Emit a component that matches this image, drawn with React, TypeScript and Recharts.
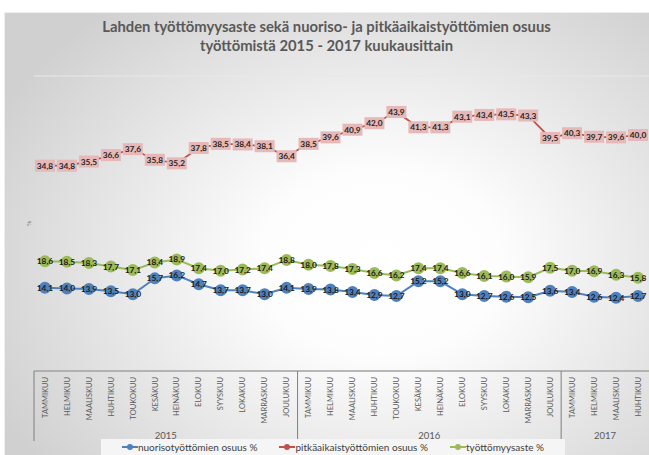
import React from 'react';
import { LineChart, Line, XAxis, YAxis, CartesianGrid, Legend } from 'recharts';

const months = [
  'TAMMIKUU', 'HELMIKUU', 'MAALISKUU', 'HUHTIKUU', 'TOUKOKUU', 'KESÄKUU',
  'HEINÄKUU', 'ELOKUU', 'SYYSKUU', 'LOKAKUU', 'MARRASKUU', 'JOULUKUU',
];
const years = ['2015', '2016', '2017'];
const monthsPerYear = [12, 12, 4];

const youthShare = [
  14.1, 14.0, 13.9, 13.5, 13.0, 15.7, 16.2, 14.7, 13.7, 13.7, 13.0, 14.1,
  13.9, 13.8, 13.4, 12.9, 12.7, 15.2, 15.2, 13.0, 12.7, 12.6, 12.5, 13.6,
  13.4, 12.6, 12.4, 12.7,
];
const longTermShare = [
  34.8, 34.8, 35.5, 36.6, 37.6, 35.8, 35.2, 37.8, 38.5, 38.4, 38.1, 36.4,
  38.5, 39.6, 40.9, 42.0, 43.9, 41.3, 41.3, 43.1, 43.4, 43.5, 43.3, 39.5,
  40.3, 39.7, 39.6, 40.0,
];
const unemploymentRate = [
  18.6, 18.5, 18.3, 17.7, 17.1, 18.4, 18.9, 17.4, 17.0, 17.2, 17.4, 18.8,
  18.0, 17.8, 17.3, 16.6, 16.2, 17.4, 17.4, 16.6, 16.1, 16.0, 15.9, 17.5,
  17.0, 16.9, 16.3, 15.8,
];
const yTicks = [0, 5, 10, 15, 20, 25, 30, 35, 40, 45, 50];

const series = [
  { key: 'youth', name: 'nuorisotyöttömien osuus %', color: '#4f81bd' },
  { key: 'longTerm', name: 'pitkäaikaistyöttömien osuus %', color: '#c0504d' },
  { key: 'rate', name: 'työttömyysaste %', color: '#9bbb59' },
];

// build rows: one per month, with its year group
const data: any[] = [];
years.forEach((yr, g) => {
  for (let m = 0; m < monthsPerYear[g]; m++) {
    const i = data.length;
    data.push({
      key: `${yr}-${m}`,
      month: months[m],
      year: yr,
      youth: youthShare[i],
      longTerm: longTermShare[i],
      rate: unemploymentRate[i],
    });
  }
});

const W = 649;
const H = 455;
const margin = { top: 76, right: 0, bottom: 0, left: 24 };
const yAxisW = 10;
const band = (W - margin.left - yAxisW - margin.right) / data.length;
const FONT = 'Lato, "Open Sans", sans-serif';

const fmt = (v: number) => v.toFixed(1).replace('.', ',');

// group boundaries for separators and year labels
const groupStarts: number[] = [];
monthsPerYear.reduce((acc, n) => {
  groupStarts.push(acc);
  return acc + n;
}, 0);

const MonthTick = (props: any) => {
  const { x, y, index } = props;
  const row = data[index];
  if (!row) return null;
  const axisY = y - 6;
  const g = years.indexOf(row.year);
  const start = groupStarts[g];
  const count = monthsPerYear[g];
  const isLast = index === start + count - 1;
  const midIndex = start + Math.floor(count / 2) - 1;
  return (
    <g>
      <text
        x={x + 2.7}
        y={y}
        transform={`rotate(-90, ${x + 2.7}, ${y})`}
        textAnchor="end"
        fontSize={7.5}
        fontFamily={FONT}
        fill="#595959"
      >
        {row.month}
      </text>
      {index === 0 && (
        <line x1={x - band / 2} x2={x - band / 2} y1={axisY} y2={axisY + 70} stroke="#7f7f7f" strokeWidth={1} />
      )}
      {isLast && g < years.length - 1 && (
        <line x1={x + band / 2} x2={x + band / 2} y1={axisY} y2={axisY + 70} stroke="#7f7f7f" strokeWidth={1} />
      )}
      {index === midIndex && (
        <text
          x={x + band / 2}
          y={axisY + 67.5}
          textAnchor="middle"
          fontSize={9.5}
          fontFamily={FONT}
          fill="#595959"
        >
          {row.year}
        </text>
      )}
    </g>
  );
};

const boxLabel = (props: any) => {
  const { x, y, value } = props;
  return (
    <g>
      <rect x={x - 10} y={y - 6} width={20} height={12} fill="#e6b8b7" />
      <text x={x} y={y + 3} textAnchor="middle" fontSize={8.3} fontWeight="bold" fontFamily={FONT} fill="#262626">
        {fmt(value)}
      </text>
    </g>
  );
};

const plainLabel = (props: any) => {
  const { x, y, value } = props;
  return (
    <text x={x} y={y + 3} textAnchor="middle" fontSize={8.3} fontWeight="bold" fontFamily={FONT} fill="#1a1a1a">
      {fmt(value)}
    </text>
  );
};

const LegendBox = () => (
  <div
    style={{
      marginLeft: 101,
      width: 464,
      height: 16,
      background: '#f5f5f5',
      display: 'flex',
      alignItems: 'center',
      justifyContent: 'center',
      gap: 22,
      fontFamily: FONT,
      fontSize: 10,
      color: '#404040',
    }}
  >
    {series.map((s) => (
      <div key={s.key} style={{ display: 'flex', alignItems: 'center' }}>
        <svg width={16} height={8}>
          <line x1={0} x2={16} y1={4} y2={4} stroke={s.color} strokeWidth={2} />
          <circle cx={8} cy={4} r={3} fill={s.color} />
        </svg>
        <span>{s.name}</span>
      </div>
    ))}
  </div>
);

export default function App() {
  return (
    <div style={{ position: 'absolute', left: 0, top: 0, width: W, height: H, overflow: 'hidden' }}>
      <div
        style={{
          position: 'absolute',
          left: 4,
          top: 12,
          width: W - 4,
          height: H - 12,
          borderTop: '1px solid #eeeeee',
          borderLeft: '1px solid #eeeeee',
          background:
            'radial-gradient(ellipse 430px 330px at 376px 250px, #ffffff 0%, #fdfdfd 28%, #d0d0d0 100%)',
        }}
      />
      <div
        style={{
          position: 'absolute',
          left: 4,
          top: 17,
          width: W - 4,
          textAlign: 'center',
          fontFamily: FONT,
          fontWeight: 'bold',
          fontSize: 14.8,
          lineHeight: '19px',
          color: '#595959',
        }}
      >
        Lahden työttömyysaste sekä nuoriso- ja pitkäaikaistyöttömien osuus
        <br />
        työttömistä 2015 - 2017 kuukausittain
      </div>
      <div style={{ position: 'absolute', left: 0, top: 0 }}>
        <LineChart width={W} height={H} data={data} margin={margin}>
          <CartesianGrid horizontal vertical={false} stroke="#e8e8e8" />
          <XAxis
            dataKey="key"
            interval={0}
            height={68}
            padding={{ left: band / 2, right: band / 2 }}
            tickLine={false}
            tickSize={0}
            tickMargin={6}
            axisLine={{ stroke: '#7f7f7f' }}
            tick={<MonthTick />}
          />
          <YAxis
            width={yAxisW}
            domain={[0, 50]}
            ticks={yTicks}
            tick={false}
            tickLine={false}
            axisLine={false}
            label={{ value: '%', angle: -90, position: 'center', fontSize: 6, fill: '#595959' }}
          />
          <Legend
            verticalAlign="bottom"
            height={16}
            wrapperStyle={{ left: 0, width: W }}
            content={<LegendBox />}
          />
          <Line
            dataKey="longTerm"
            name={series[1].name}
            stroke={series[1].color}
            strokeWidth={1.75}
            dot={false}
            label={boxLabel}
            isAnimationActive={false}
          />
          <Line
            dataKey="rate"
            name={series[2].name}
            stroke={series[2].color}
            strokeWidth={2}
            dot={{ r: 5, fill: series[2].color, stroke: series[2].color }}
            label={plainLabel}
            isAnimationActive={false}
          />
          <Line
            dataKey="youth"
            name={series[0].name}
            stroke={series[0].color}
            strokeWidth={2}
            dot={{ r: 5, fill: series[0].color, stroke: series[0].color }}
            label={plainLabel}
            isAnimationActive={false}
          />
        </LineChart>
      </div>
    </div>
  );
}
